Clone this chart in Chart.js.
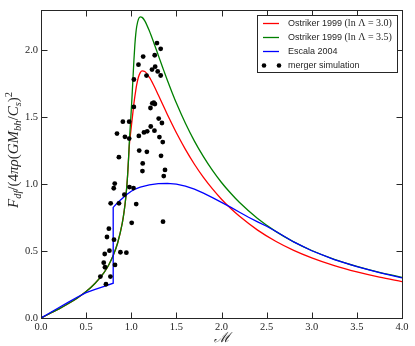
<!DOCTYPE html>
<html><head><meta charset="utf-8">
<script src="https://cdn.jsdelivr.net/npm/chart.js@4.4.0/dist/chart.umd.min.js"></script>
<style>html,body{margin:0;padding:0;background:#fff}canvas{display:block}</style>
</head><body>
<canvas id="c" width="415" height="346" style="width:415px;height:346px"></canvas>
<script>
// Mach number grid for the Ostriker 1999 curves
const machOstriker = [0,0.05,0.1,0.2,0.3,0.4,0.5,0.6,0.7,0.75,0.8,0.85,0.9,0.92,0.94,0.95,0.96,0.97,0.98,0.99,1.0,1.01,1.02,1.03,1.04,1.05,1.06,1.08,1.1,1.12,1.15,1.2,1.25,1.3,1.35,1.4,1.45,1.5,1.6,1.7,1.8,1.9,2.0,2.1,2.2,2.4,2.6,2.8,3.0,3.25,3.5,3.75,4.0];
// Ostriker 1999, ln Lambda = 3.0 (red)
const ostriker30 = [0,0.017,0.034,0.068,0.106,0.148,0.197,0.259,0.341,0.396,0.467,0.562,0.706,0.790,0.903,0.977,1.070,1.19,1.30,1.365,1.425,1.485,1.545,1.605,1.655,1.70,1.74,1.80,1.832,1.845,1.841,1.798,1.736,1.665,1.593,1.520,1.450,1.383,1.259,1.148,1.050,0.964,0.887,0.819,0.759,0.656,0.573,0.505,0.449,0.391,0.344,0.305,0.272];
// Ostriker 1999, ln Lambda = 3.5 (green)
const ostriker35 = [0,0.017,0.034,0.068,0.106,0.148,0.197,0.259,0.341,0.396,0.467,0.562,0.706,0.790,0.903,0.977,1.070,1.19,1.33,1.44,1.55,1.67,1.80,1.93,2.04,2.12,2.175,2.232,2.248,2.245,2.219,2.145,2.056,1.961,1.867,1.775,1.688,1.605,1.454,1.321,1.205,1.102,1.012,0.933,0.862,0.743,0.647,0.569,0.504,0.438,0.385,0.340,0.304];
// Escala 2004 (blue)
const machEscala = [0,0.1,0.2,0.3,0.4,0.5,0.6,0.7,0.8,0.8,0.85,0.9,0.95,1.0,1.05,1.1,1.2,1.3,1.4,1.5,1.6,1.7,1.8,1.9,2.0,2.1,2.2,2.3,2.4,2.5,2.6,2.8,3.0,3.25,3.5,3.75,4.0];
const fdfEscala = [0,0.039,0.078,0.117,0.155,0.19,0.214,0.237,0.26,0.826,0.862,0.893,0.922,0.947,0.965,0.978,0.994,1.003,1.006,1.0,0.985,0.962,0.933,0.899,0.864,0.828,0.79,0.752,0.718,0.685,0.648,0.568,0.502,0.436,0.383,0.339,0.300];
// merger simulation points
const simMach = [1.285,1.326,1.132,1.260,1.080,1.265,1.230,1.293,1.326,1.169,1.029,1.029,1.233,1.249,1.262,1.213,1.304,1.340,0.907,0.977,0.842,0.930,0.977,1.084,1.141,1.177,1.216,1.257,1.312,1.349,1.088,1.173,0.863,1.330,1.127,1.124,1.374,1.360,0.817,0.806,0.980,1.025,0.924,0.772,0.864,1.055,1.005,1.352,0.752,0.731,0.809,0.758,0.880,0.946,0.706,0.695,0.820,0.709,0.658,0.769,0.720];
const simFdf = [2.053,2.010,1.952,1.962,1.892,1.877,1.855,1.841,1.811,1.810,1.781,1.576,1.603,1.608,1.598,1.568,1.489,1.456,1.466,1.466,1.377,1.353,1.340,1.360,1.386,1.394,1.430,1.399,1.351,1.314,1.250,1.241,1.201,1.211,1.154,1.097,1.106,1.060,1.004,0.969,0.978,0.970,0.921,0.856,0.856,0.851,0.711,0.719,0.667,0.605,0.585,0.503,0.491,0.488,0.478,0.413,0.396,0.379,0.309,0.309,0.252];
const xTicks = [0,0.5,1.0,1.5,2.0,2.5,3.0,3.5,4.0];
const yTicks = [0,0.5,1.0,1.5,2.0];
const seriesLabels = ['Ostriker 1999 (ln \u039B = 3.0)','Ostriker 1999 (ln \u039B = 3.5)','Escala 2004','merger simulation'];

const INK = '#262626';
const SERIF = 'Liberation Serif';
const SANS = 'Liberation Sans';

function pts(xs, ys){ return xs.map((v,i)=>({x:v,y:ys[i]})); }

const framePlugin = {
  id:'frame',
  afterDatasetsDraw(chart){
    const {ctx, chartArea:a, scales:{x,y}} = chart;
    ctx.save();
    ctx.strokeStyle = INK; ctx.lineWidth = 1;
    const L = 6;
    const l = Math.round(a.left)+0.5, r = Math.round(a.right)+0.5, t = Math.round(a.top)+0.5, b = Math.round(a.bottom)+0.5;
    ctx.beginPath();
    x.ticks.forEach(tk=>{ const px = Math.round(x.getPixelForValue(tk.value))+0.5;
      ctx.moveTo(px,b); ctx.lineTo(px,b-L); ctx.moveTo(px,t); ctx.lineTo(px,t+L); });
    y.ticks.forEach(tk=>{ const py = Math.round(y.getPixelForValue(tk.value))+0.5;
      ctx.moveTo(l,py); ctx.lineTo(l+L,py); ctx.moveTo(r,py); ctx.lineTo(r-L,py); });
    ctx.stroke();
    ctx.strokeRect(l, t, r-l, b-t);
    ctx.restore();
  }
};

function drawRich(ctx, parts, cx, cy){
  let w = 0;
  parts.forEach(p=>{ ctx.font = p[1]; w += ctx.measureText(p[0]).width; });
  let xx = cx - w/2;
  ctx.textBaseline = 'alphabetic'; ctx.textAlign = 'left';
  parts.forEach(p=>{ ctx.font = p[1]; ctx.fillText(p[0], xx, cy + p[2]); xx += ctx.measureText(p[0]).width; });
}

const titlePlugin = {
  id:'titles',
  afterDraw(chart){
    const ctx = chart.ctx;
    ctx.save();
    ctx.fillStyle = INK;
    // x title
    ctx.font = 'italic 14px DejaVu Serif';
    ctx.textAlign = 'center'; ctx.textBaseline = 'middle';
    ctx.fillText('\u2133', 221.5, 338);
    // y title
    ctx.translate(18, 150);
    ctx.rotate(-Math.PI/2);
    const M = '15px '+SERIF, I = 'italic 15px '+SERIF, s = 'italic 10.5px '+SERIF, sr = '10.5px '+SERIF;
    drawRich(ctx, [
      ['F',I,0],['df',s,3],['/(4',M,0],['\u03C0\u03C1',I,0],['(',M,0],['GM',I,0],['bh',s,3],
      ['/',M,0],['C',I,0],['s',s,3],[')',M,0],['2',sr,-6]
    ], 0, 0);
    ctx.restore();
  }
};

const legendPlugin = {
  id:'legendBox',
  afterDraw(chart){
    const ctx = chart.ctx;
    ctx.save();
    ctx.fillStyle = '#fff'; ctx.fillRect(257.5,15.5,140,57);
    ctx.strokeStyle = INK; ctx.lineWidth = 1; ctx.strokeRect(257.5,15.5,140,57);
    const rows = [23.5,37.5,51.5,65.5];
    chart.data.datasets.forEach((ds,i)=>{
      const yy = rows[i];
      if (ds.showLine){
        ctx.strokeStyle = ds.borderColor; ctx.lineWidth = 1.3;
        ctx.beginPath(); ctx.moveTo(263,yy); ctx.lineTo(279,yy); ctx.stroke();
      } else {
        ctx.fillStyle = ds.backgroundColor;
        [264,279].forEach(px=>{ ctx.beginPath(); ctx.arc(px,yy,2.3,0,Math.PI*2); ctx.fill(); });
      }
      ctx.fillStyle = INK; ctx.textBaseline = 'middle'; ctx.textAlign = 'left';
      const lbl = ds.label; const k = lbl.indexOf('(');
      let xx = 288;
      const a = k>=0 ? lbl.slice(0,k) : lbl;
      ctx.font = '9px '+SANS; ctx.fillText(a, xx, yy); xx += ctx.measureText(a).width;
      if (k>=0){ ctx.font = '10px '+SERIF; ctx.fillText(lbl.slice(k), xx, yy); }
    });
    ctx.restore();
  }
};

new Chart(document.getElementById('c'), {
  type:'scatter',
  data:{ datasets:[
    { label:seriesLabels[0], data:pts(machOstriker, ostriker30), showLine:true, borderColor:'#ff0000', backgroundColor:'#ff0000', borderWidth:1.3, pointRadius:0, cubicInterpolationMode:'monotone', order:4 },
    { label:seriesLabels[1], data:pts(machOstriker, ostriker35), showLine:true, borderColor:'#008000', backgroundColor:'#008000', borderWidth:1.3, pointRadius:0, cubicInterpolationMode:'monotone', order:3 },
    { label:seriesLabels[2], data:pts(machEscala, fdfEscala), showLine:true, borderColor:'#0000ff', backgroundColor:'#0000ff', borderWidth:1.3, pointRadius:0, tension:0, order:2 },
    { label:seriesLabels[3], data:pts(simMach, simFdf), showLine:false, backgroundColor:'#000000', borderWidth:0, pointRadius:2.4, order:1 }
  ]},
  options:{
    responsive:false, animation:false, devicePixelRatio:1,
    layout:{ padding:{ top:10, right:13, left:0, bottom:0 } },
    plugins:{ legend:{display:false}, tooltip:{enabled:false} },
    scales:{
      x:{ type:'linear', min:0, max:4,
        grid:{display:false, drawTicks:false}, border:{display:false},
        afterBuildTicks:(sc)=>{ sc.ticks = xTicks.map(v=>({value:v})); },
        afterFit:(sc)=>{ sc.height = 28; },
        ticks:{ padding:3, color:INK, font:{family:SERIF, size:10.5}, maxRotation:0, callback:(v)=>Number(v).toFixed(1) } },
      y:{ type:'linear', min:0, max:2.3,
        grid:{display:false, drawTicks:false}, border:{display:false},
        afterBuildTicks:(sc)=>{ sc.ticks = yTicks.map(v=>({value:v})); },
        afterFit:(sc)=>{ sc.width = 41; },
        ticks:{ padding:3, color:INK, font:{family:SERIF, size:10.5}, callback:(v)=>Number(v).toFixed(1) } }
    }
  },
  plugins:[framePlugin, titlePlugin, legendPlugin]
});
</script>
</body></html>
